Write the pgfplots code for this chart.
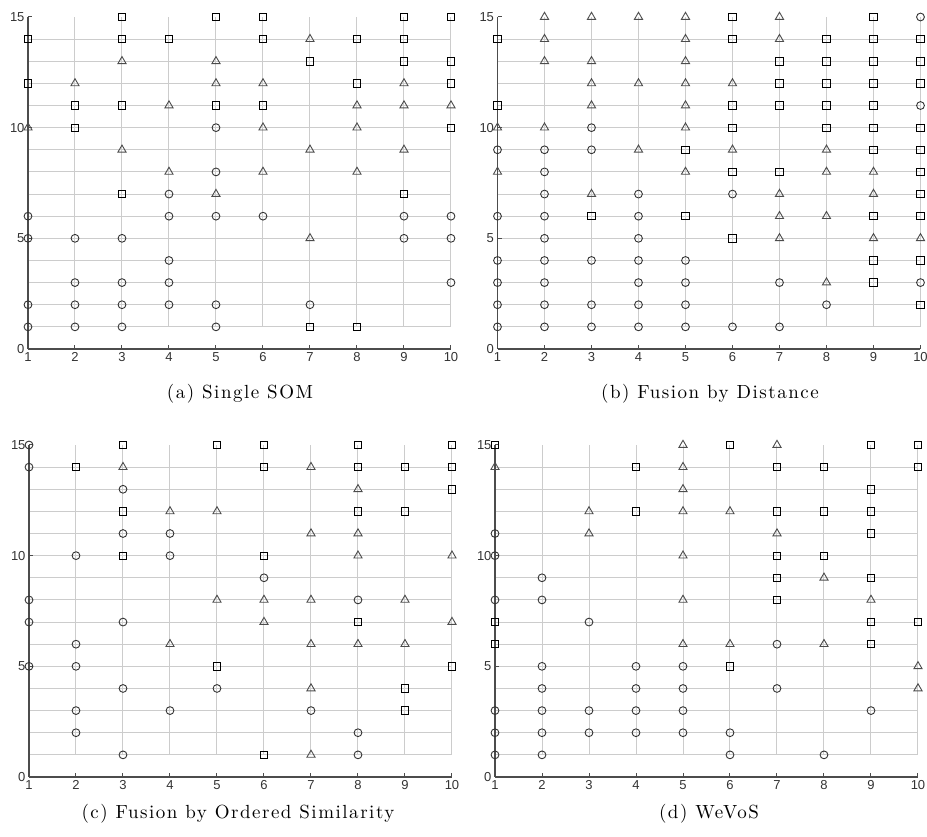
\documentclass[border=0pt]{standalone}
\usepackage{pgfplots}
\pgfplotsset{compat=1.18}
\usepackage{fontspec}
\newfontfamily\tickfont{Liberation Sans}
\newfontfamily\capfont[LetterSpace=8]{lmroman10-regular.otf}

\pgfplotsset{
 somaxis/.style={
  scale only axis, width=423pt, height=332pt,
  xmin=1,xmax=10,ymin=0,ymax=15,
  axis lines*=left,
  xtick={1,...,10}, ytick={0,5,10,15},
  tick align=inside, major tick length=4pt,
  tick style={black!70,line width=1pt},
  axis line style={black!70,line width=1.6pt},
  ticklabel style={font=\tickfont\fontsize{13}{14}\selectfont, text=black!80},
  /pgf/number format/assume math mode=true,
  clip=false, axis on top,
  anchor=south west,
 },
 circ/.style={only marks, mark=o, mark size=3.9pt, mark options={line width=0.9pt, draw=black!80}},
 tri/.style={only marks, mark=triangle, mark size=4.7pt, mark options={line width=0.9pt, draw=black!70}},
 sq/.style={only marks, mark=square, mark size=3.7pt, mark options={line width=0.9pt, draw=black}},
 gridl/.style={black!20, line width=1pt, forget plot, no markers},
}
\newcommand\somgrid{%
 \pgfplotsinvokeforeach{1,...,14}{\addplot[gridl] coordinates {(1,##1) (10,##1)};}%
 \pgfplotsinvokeforeach{2,...,10}{\addplot[gridl] coordinates {(##1,1) (##1,15)};}%
}
\newcommand\capt[1]{{\capfont\fontsize{19}{20}\selectfont #1}}

\begin{document}
\begin{tikzpicture}
\useasboundingbox (0,0) rectangle (927pt,837pt);

% (a) Single SOM
\begin{axis}[somaxis, at={(28pt,488pt)}]
\somgrid
\addplot[circ] coordinates {(1,6)(1,5)(1,2)(1,1)(2,5)(2,3)(2,2)(2,1)(3,5)(3,3)(3,2)(3,1)(4,7)(4,6)(4,4)(4,3)(4,2)(5,10)(5,8)(5,6)(5,2)(5,1)(6,6)(7,2)(9,6)(9,5)(10,6)(10,5)(10,3)};
\addplot[tri] coordinates {(1,10)(2,12)(3,13)(3,9)(4,11)(4,8)(5,13)(5,12)(5,7)(6,12)(6,10)(6,8)(7,14)(7,9)(7,5)(8,11)(8,10)(8,8)(9,12)(9,11)(9,9)(10,11)};
\addplot[sq] coordinates {(1,14)(1,12)(2,11)(2,10)(3,15)(3,14)(3,11)(3,7)(4,14)(5,15)(5,11)(6,15)(6,14)(6,11)(7,13)(7,1)(8,14)(8,12)(8,1)(9,15)(9,14)(9,13)(9,7)(10,15)(10,13)(10,12)(10,10)};
\end{axis}

% (b) Fusion by Distance
\begin{axis}[somaxis, at={(497.5pt,488pt)}]
\somgrid
\addplot[circ] coordinates {(1,9)(1,6)(1,4)(1,3)(1,2)(1,1)
 (2,9)(2,8)(2,7)(2,6)(2,5)(2,4)(2,3)(2,2)(2,1)
 (3,10)(3,9)(3,4)(3,2)(3,1)
 (4,7)(4,6)(4,5)(4,4)(4,3)(4,2)(4,1)
 (5,4)(5,3)(5,2)(5,1)
 (6,7)(6,1)(7,3)(7,1)(8,2)(10,15)(10,11)(10,3)};
\addplot[tri] coordinates {(1,10)(1,8)
 (2,15)(2,14)(2,13)(2,10)
 (3,15)(3,13)(3,12)(3,11)(3,7)
 (4,15)(4,12)(4,9)
 (5,15)(5,14)(5,13)(5,12)(5,11)(5,10)(5,8)
 (6,12)(6,9)(7,15)(7,14)(7,7)(7,6)(7,5)
 (8,9)(8,8)(8,6)(8,3)(9,8)(9,7)(9,5)(10,5)};
\addplot[sq] coordinates {(1,14)(1,11)(3,6)(5,9)(5,6)
 (6,15)(6,14)(6,11)(6,10)(6,8)(6,5)
 (7,13)(7,12)(7,11)(7,8)
 (8,14)(8,13)(8,12)(8,11)(8,10)
 (9,15)(9,14)(9,13)(9,12)(9,11)(9,10)(9,9)(9,6)(9,4)(9,3)
 (10,14)(10,13)(10,12)(10,10)(10,9)(10,8)(10,7)(10,6)(10,4)(10,2)};
\end{axis}

% (c) Fusion by Ordered Similarity
\begin{axis}[somaxis, at={(29pt,60pt)}]
\somgrid
\addplot[circ] coordinates {(1,15)(1,14)(1,8)(1,7)(1,5)
 (2,10)(2,6)(2,5)(2,3)(2,2)
 (3,13)(3,11)(3,7)(3,4)(3,1)
 (4,11)(4,10)(4,3)(5,4)(6,9)(7,3)(8,8)(8,2)(8,1)};
\addplot[tri] coordinates {(3,14)(4,12)(4,6)(5,12)(5,8)(6,8)(6,7)
 (7,14)(7,11)(7,8)(7,6)(7,4)(7,1)
 (8,13)(8,11)(8,10)(8,6)(9,8)(9,6)(10,10)(10,7)};
\addplot[sq] coordinates {(2,14)(3,15)(3,12)(3,10)(5,15)(5,5)
 (6,15)(6,14)(6,10)(6,1)(8,15)(8,14)(8,12)(8,7)
 (9,14)(9,12)(9,4)(9,3)(10,15)(10,14)(10,13)(10,5)};
\end{axis}

% (d) WeVoS
\begin{axis}[somaxis, at={(495pt,60pt)}]
\somgrid
\addplot[circ] coordinates {(1,11)(1,10)(1,8)(1,3)(1,2)(1,1)
 (2,9)(2,8)(2,5)(2,4)(2,3)(2,2)(2,1)
 (3,7)(3,3)(3,2)(4,5)(4,4)(4,3)(4,2)
 (5,5)(5,4)(5,3)(5,2)(6,2)(6,1)(7,6)(7,4)(8,1)(9,3)};
\addplot[tri] coordinates {(1,14)(3,12)(3,11)
 (5,15)(5,14)(5,13)(5,12)(5,10)(5,8)(5,6)
 (6,12)(6,6)(7,15)(7,11)(8,9)(8,6)(9,8)(10,5)(10,4)};
\addplot[sq] coordinates {(1,15)(1,7)(1,6)(4,14)(4,12)(6,15)(6,5)
 (7,14)(7,12)(7,10)(7,9)(7,8)(8,14)(8,12)(8,10)
 (9,15)(9,13)(9,12)(9,11)(9,9)(9,7)(9,6)(10,15)(10,14)(10,7)};
\end{axis}

\node[anchor=base] at (240pt,438pt) {\capt{(a) Single SOM}};
\node[anchor=base] at (710pt,438pt) {\capt{(b) Fusion by Distance}};
\node[anchor=base] at (238pt,18pt) {\capt{(c) Fusion by Ordered Similarity}};
\node[anchor=base] at (709pt,18pt) {\capt{(d) WeVoS}};
\end{tikzpicture}
\end{document}
